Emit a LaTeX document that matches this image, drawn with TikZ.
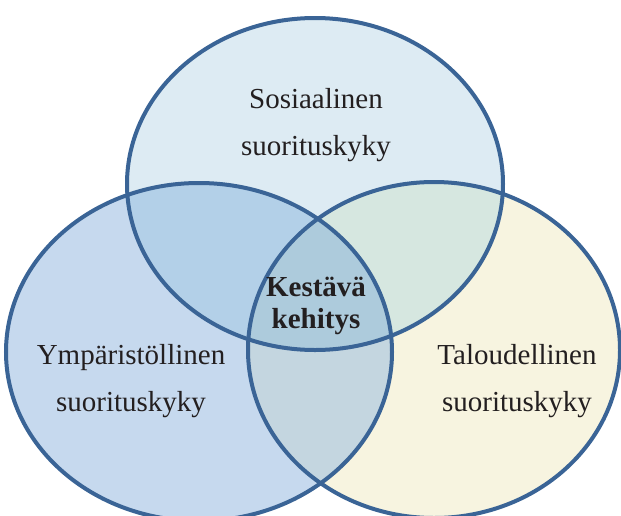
\documentclass[tikz,border=0pt]{standalone}
\usepackage{fontspec}
\setmainfont{Liberation Serif}

\definecolor{ring}{HTML}{3A6496}
\definecolor{socialfill}{HTML}{DDEBF3}
\definecolor{envfill}{HTML}{C6D9EE}
\definecolor{econfill}{HTML}{F7F4E0}
\definecolor{socenv}{HTML}{B3D0E8}
\definecolor{soceco}{HTML}{D6E7E0}
\definecolor{enveco}{HTML}{C4D6E0}
\definecolor{core}{HTML}{ADCBDC}
\definecolor{ink}{HTML}{231F20}

\newcommand{\socialring}{(Social) ellipse [x radius=188pt, y radius=166pt]}
\newcommand{\envring}{(Env) ellipse [x radius=193pt, y radius=169pt]}
\newcommand{\econring}{(Econ) ellipse [x radius=186pt, y radius=168pt]}

\tikzset{
  border/.style={ring, line width=4pt},
  label/.style={ink, align=center, font=\fontsize{29}{47}\selectfont},
}

\begin{document}
\begin{tikzpicture}[x=1pt,y=-1pt]
                \coordinate (LT) at (0,0);
                \coordinate (RB) at (621,515);
                \coordinate (Social) at (315,184);
                \coordinate (Env) at (199,352);
                \coordinate (Econ) at (434,350);

                \useasboundingbox (LT) rectangle (RB);
                \clip (LT) rectangle (RB);
                \fill[white] (LT) rectangle (RB); % background
                \fill[socialfill] \socialring;
                \fill[envfill] \envring;
                \fill[econfill] \econring;
                \begin{scope}
                    \clip \socialring;
                    \fill[socenv] \envring;
                    \fill[soceco] \econring;
                \end{scope}
                \begin{scope}
                    \clip \envring;
                    \fill[enveco] \econring;
                \end{scope}
                \begin{scope} % middle
                    \clip \socialring;
                    \clip \envring;
                    \fill[core] \econring;
                \end{scope}
                \draw[border] \envring;
                \draw[border] \econring;
                \draw[border] \socialring;

                \node[label] (social label) at (316,125) {Sosiaalinen\\suorituskyky};
                \node[label] (env label) at (131,381) {Ympäristöllinen\\suorituskyky};
                \node[label] (econ label) at (517,381) {Taloudellinen\\suorituskyky};
                \node[label, font=\fontsize{29}{32}\selectfont\bfseries] (core label) at (316,306) {Kestävä\\kehitys};
            \end{tikzpicture}
\end{document}
